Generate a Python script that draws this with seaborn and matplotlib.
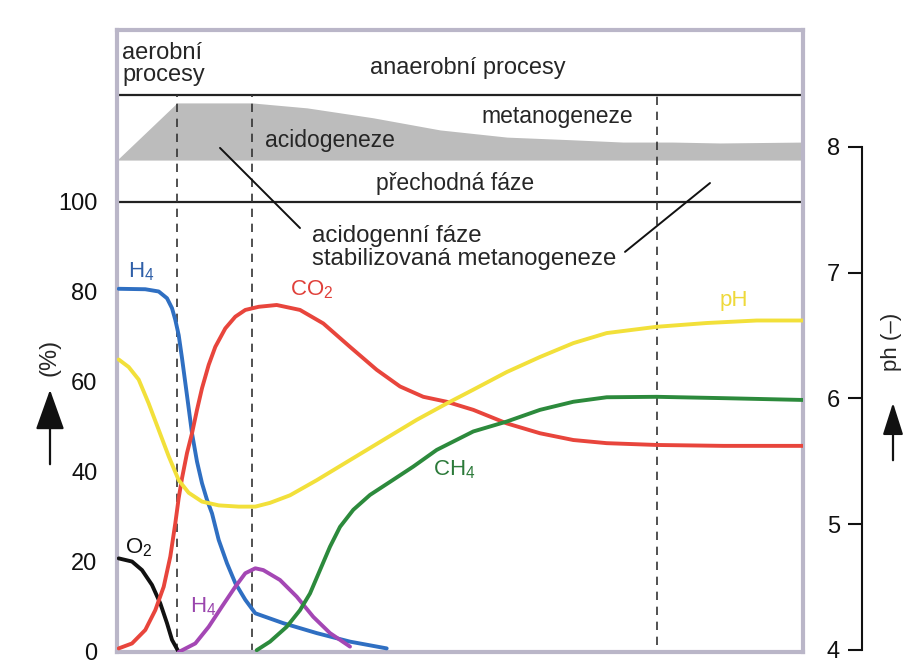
import numpy as np
import pandas as pd
import matplotlib
matplotlib.use("Agg")
import matplotlib.pyplot as plt
import seaborn as sns

# Time runs 0..686 (arbitrary units, no scale on the original)
# Gas composition (%)
o2_x = [1.7, 15, 25, 35, 43.3, 50, 55, 61.7]
o2_y = [20.8, 20.1, 18.2, 14.9, 10.8, 6.4, 2.7, 0.0]

h4_x = [1.7, 28.3, 41.7, 50, 55, 58.3, 61.7, 65, 70, 75, 80, 85, 90, 95, 101.7, 110,
        118.3, 128.3, 138.3, 166.3, 199.7, 233, 269.7]
h4_y = [80.7, 80.6, 80.1, 78.6, 76.4, 73.8, 70.4, 65.3, 57.0, 48.6, 42.3, 37.5, 33.8, 30.8,
        24.9, 19.7, 15.3, 11.6, 8.6, 6.4, 4.2, 2.3, 0.8]

co2_x = [1.7, 15, 28.3, 38.3, 46.7, 53.3, 58.3, 61.7, 65, 70, 75, 80, 85, 91.7, 98.3, 108.3,
         118.3, 128.3, 141.7, 159.7, 183, 206.3, 233, 259.7, 283, 306.3, 329.7, 356.3,
         389.7, 423, 456.3, 489.7, 539.7, 606.3, 686]
co2_y = [0.8, 1.9, 4.9, 9.3, 14.5, 21.2, 28.6, 34.2, 38.6, 44.2, 48.6, 53.8, 58.6, 63.8, 67.8,
         71.9, 74.5, 76.0, 76.7, 77.1, 76.0, 73.0, 67.8, 62.7, 59.0, 56.7, 55.6, 53.8,
         50.8, 48.6, 47.1, 46.4, 46.0, 45.8, 45.8]

h2_x = [61.7, 78.3, 91.7, 105, 118.3, 128.3, 138.3, 146.3, 163, 179.7, 196.3, 213, 233]
h2_y = [0.0, 1.9, 5.6, 10.1, 14.5, 17.5, 18.6, 18.2, 16.0, 12.3, 7.8, 4.2, 1.2]

ch4_x = [139.7, 153, 169.7, 183, 193, 203, 213, 223, 236.3, 253, 273, 296.3, 319.7,
         356.3, 389.7, 423, 456.3, 489.7, 539.7, 606.3, 686]
ch4_y = [0.4, 2.3, 5.6, 9.3, 13.0, 18.2, 23.4, 27.8, 31.6, 34.9, 37.8, 41.2, 44.9,
         49.0, 51.2, 53.8, 55.6, 56.6, 56.7, 56.4, 56.0]

# pH (right axis)
ph_x = [1.7, 11.7, 21.7, 31.7, 41.7, 51.7, 61.7, 71.7, 85, 101.7, 121.7, 138.3, 153, 173,
        199.7, 233, 266.3, 299.7, 329.7, 356.3, 389.7, 423, 456.3, 489.7, 539.7, 589.7,
        639.7, 686]
ph_y = [6.31, 6.25, 6.15, 5.96, 5.75, 5.54, 5.35, 5.25, 5.18, 5.15, 5.14, 5.14, 5.17, 5.23,
        5.35, 5.51, 5.67, 5.83, 5.96, 6.07, 6.21, 6.33, 6.44, 6.52, 6.57, 6.60,
        6.62, 6.62]

# Grey "acidogeneze" band (upper edge; lower edge is flat)
band_x = [0, 60, 135, 190, 256, 323, 390, 456, 506, 556, 603, 686]
band_top = [109.3, 122.0, 122.0, 120.9, 118.7, 116.0, 114.4, 113.8, 113.3, 113.3, 113.1, 113.3]
band_bottom = 109.3

phase_x = [60, 135, 540]
left_ticks = [0, 20, 40, 60, 80, 100]
ph_ticks = [4, 5, 6, 7, 8]

sns.set_theme(style="white")
plt.rcParams["font.family"] = ["Liberation Sans", "DejaVu Sans"]
plt.rcParams["mathtext.fontset"] = "custom"
plt.rcParams["mathtext.rm"] = "Liberation Sans"
plt.rcParams["mathtext.it"] = "Liberation Sans"

fig = plt.figure(figsize=(9.06, 6.68), dpi=100)
ax = fig.add_axes([117 / 906, 1 - 652 / 668, 686 / 906, 622 / 668])

ax.set_xlim(0, 686)
ax.set_ylim(0, 138.2)

# grey band
ax.fill_between(band_x, band_bottom, band_top, color="#bcbcbc", lw=0, zorder=1)

# header separators
ax.axhline(123.8, color="#222222", lw=1.6, zorder=2)
ax.axhline(100, color="#222222", lw=1.6, zorder=2)

# phase boundaries
ax.vlines(phase_x[:2], 0, 123.8, colors="#333333", linestyles=(0, (5, 4)), lw=1.2, zorder=2)
ax.vlines(phase_x[2], 1.5, 123.8, colors="#333333", linestyles=(0, (5, 4)), lw=1.2, zorder=2)

lw = 2.8
sns.lineplot(x=o2_x, y=o2_y, ax=ax, color="#111111", lw=lw, zorder=4)
sns.lineplot(x=h4_x, y=h4_y, ax=ax, color="#2f6fc2", lw=lw, zorder=4)
sns.lineplot(x=co2_x, y=co2_y, ax=ax, color="#e8453c", lw=lw, zorder=4)
sns.lineplot(x=h2_x, y=h2_y, ax=ax, color="#a447b4", lw=lw, zorder=4)
sns.lineplot(x=ch4_x, y=ch4_y, ax=ax, color="#2c8a3c", lw=lw, zorder=4)

# pH on its own scale
ax2 = ax.twinx()
ax2.set_ylim(3.984, 8.93)
sns.lineplot(x=ph_x, y=ph_y, ax=ax2, color="#f2e03a", lw=lw, zorder=3)
ax2.set_xlim(0, 686)

# left axis look
frame = "#bab6c8"
for s in ax.spines.values():
    s.set_color(frame)
    s.set_linewidth(3)
ax.set_xticks([])
ax.set_yticks(left_ticks)
ax.tick_params(axis="y", length=0, pad=14, labelsize=17, colors="#111111")
ax.set_xlabel("")
ax.set_ylabel("")

# right pH axis, drawn as a detached scale
for name, s in ax2.spines.items():
    s.set_visible(name == "left")
ax2.spines["left"].set_position(("axes", (862 - 117) / 686))
ax2.spines["left"].set_bounds(4, 8)
ax2.spines["left"].set_color("#111111")
ax2.spines["left"].set_linewidth(1.5)
ax2.yaxis.tick_left()
ax2.set_yticks(ph_ticks)
ax2.tick_params(axis="y", direction="out", length=10, width=1.5, pad=6,
                labelsize=17, colors="#111111")
ax2.set_ylabel("")
ax2.set_zorder(ax.get_zorder() + 1)
ax2.patch.set_visible(False)

# header texts
fs = 17
ax.text(5, 130.7, "aerobní\nprocesy", fontsize=fs, ha="left", va="center", linespacing=1.0)
ax.text(351, 129.8, "anaerobní procesy", fontsize=fs, ha="center", va="center")
ax.text(440, 118.9, "metanogeneze", fontsize=16.5, ha="center", va="center", zorder=5)
ax.text(213, 113.6, "acidogeneze", fontsize=16.5, ha="center", va="center", zorder=5)
ax.text(338, 104.2, "přechodná fáze", fontsize=16.5, ha="center", va="center")
ax.text(195, 89.8, "acidogenní fáze\nstabilizovaná metanogeneze", fontsize=17.3,
        ha="left", va="center", linespacing=1.05)

# pointer lines
ax.plot([103, 183], [112.0, 94.2], color="#111111", lw=1.4, zorder=5)
ax.plot([593, 508], [104.2, 88.9], color="#111111", lw=1.4, zorder=5)

# curve labels
lfs = 16
ax.text(11, 84.4, "H$_4$", color="#2f5fa8", fontsize=lfs, ha="left", va="center")
ax.text(173, 80.4, "CO$_2$", color="#e0403a", fontsize=lfs, ha="left", va="center")
ax.text(603, 78.2, "pH", color="#eed93a", fontsize=lfs, ha="left", va="center")
ax.text(316, 40.4, "CH$_4$", color="#2c7a3a", fontsize=lfs, ha="left", va="center")
ax.text(8, 23.1, "O$_2$", color="#111111", fontsize=lfs, ha="left", va="center")
ax.text(73, 10.0, "H$_4$", color="#9a45ad", fontsize=lfs, ha="left", va="center")

# axis captions with arrows
fig.text(50 / 906, 1 - 357 / 668, "(%)", rotation=90, fontsize=17, ha="center", va="center")
fig.add_artist(matplotlib.patches.FancyArrowPatch(
    (50 / 906, 1 - 467 / 668), (50 / 906, 1 - 387 / 668), transform=fig.transFigure,
    arrowstyle="-|>,head_length=1.4,head_width=0.5", mutation_scale=18, lw=1.6, color="#111111"))
fig.text(891 / 906, 1 - 342 / 668, "ph (–)", rotation=90, fontsize=16, ha="center", va="center")
fig.add_artist(matplotlib.patches.FancyArrowPatch(
    (893 / 906, 1 - 463 / 668), (893 / 906, 1 - 400 / 668), transform=fig.transFigure,
    arrowstyle="-|>,head_length=1.1,head_width=0.35", mutation_scale=18, lw=1.6, color="#111111"))

fig.savefig("out.png", dpi=100, facecolor="white")
